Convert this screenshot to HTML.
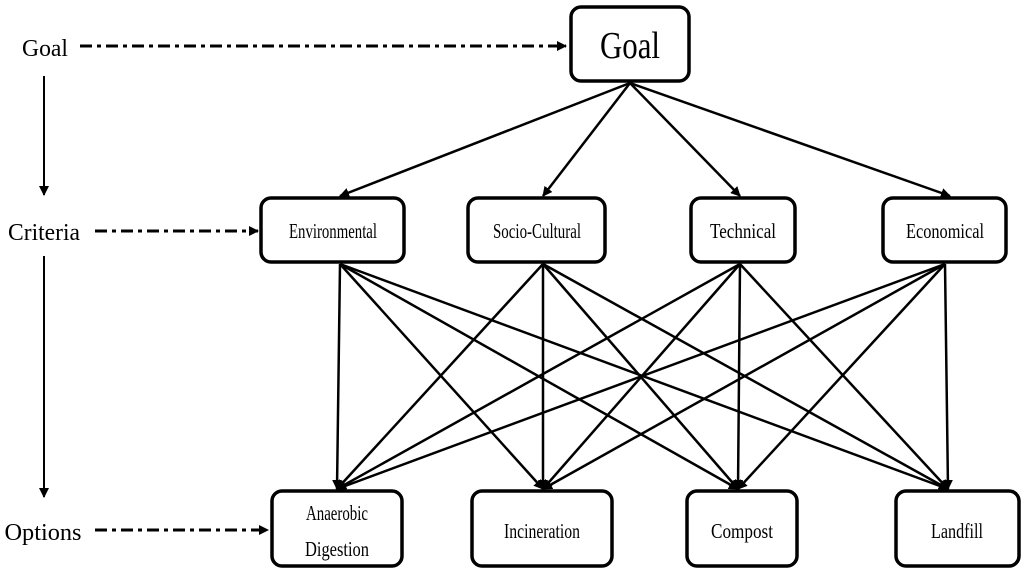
<!DOCTYPE html>
<html><head><meta charset="utf-8"><style>body{margin:0;background:#fff}svg{display:block}</style></head><body>
<svg width="1024" height="575" viewBox="0 0 1024 575" xmlns="http://www.w3.org/2000/svg" font-family="Liberation Serif, serif">
<defs>
<marker id="a" markerWidth="10" markerHeight="10" refX="9" refY="5" orient="auto" markerUnits="userSpaceOnUse"><path d="M0,0 L10,5 L0,10 z" fill="#000"/></marker>
</defs>
<g fill="#fff" stroke="#000" stroke-width="3.5">
<rect x="571" y="7" width="118" height="74" rx="10"/>
<rect x="261" y="198" width="143" height="64" rx="10"/>
<rect x="468" y="198" width="137" height="64" rx="10"/>
<rect x="691" y="198" width="104" height="64" rx="10"/>
<rect x="883" y="198" width="123" height="64" rx="10"/>
<rect x="272" y="491" width="130" height="75" rx="10"/>
<rect x="472" y="491" width="140" height="75" rx="10"/>
<rect x="687" y="491" width="110" height="75" rx="10"/>
<rect x="896" y="491" width="123" height="75" rx="10"/>
</g>
<g stroke="#000" stroke-width="2.5" marker-end="url(#a)">
<line x1="630" y1="83" x2="340" y2="196"/>
<line x1="630" y1="83" x2="543" y2="196"/>
<line x1="630" y1="83" x2="740" y2="196"/>
<line x1="630" y1="83" x2="950" y2="196"/>
</g>
<g stroke="#000" stroke-width="2.5" marker-end="url(#a)">
<line x1="340" y1="264" x2="337" y2="489"/><line x1="340" y1="264" x2="543" y2="489"/><line x1="340" y1="264" x2="738" y2="489"/><line x1="340" y1="264" x2="948" y2="489"/>
<line x1="543" y1="264" x2="337" y2="489"/><line x1="543" y1="264" x2="543" y2="489"/><line x1="543" y1="264" x2="738" y2="489"/><line x1="543" y1="264" x2="948" y2="489"/>
<line x1="740" y1="264" x2="337" y2="489"/><line x1="740" y1="264" x2="543" y2="489"/><line x1="740" y1="264" x2="738" y2="489"/><line x1="740" y1="264" x2="948" y2="489"/>
<line x1="945" y1="264" x2="337" y2="489"/><line x1="945" y1="264" x2="543" y2="489"/><line x1="945" y1="264" x2="738" y2="489"/><line x1="945" y1="264" x2="948" y2="489"/>
</g>
<g stroke="#000" stroke-width="3" stroke-dasharray="12,5,4,5" marker-end="url(#a)">
<line x1="80" y1="46" x2="566" y2="46"/>
<line x1="95" y1="231" x2="258" y2="231"/>
<line x1="95" y1="530" x2="268" y2="530"/>
</g>
<g stroke="#000" stroke-width="2" marker-end="url(#a)">
<line x1="44" y1="76" x2="44" y2="195"/>
<line x1="44" y1="256" x2="44" y2="497"/>
</g>
<g fill="#000" text-anchor="middle" lengthAdjust="spacingAndGlyphs">
<text x="630" y="58" font-size="38" textLength="60" lengthAdjust="spacingAndGlyphs">Goal</text>
<text x="45" y="56" font-size="24" textLength="46" lengthAdjust="spacingAndGlyphs">Goal</text>
<text x="44" y="240" font-size="24" textLength="72" lengthAdjust="spacingAndGlyphs">Criteria</text>
<text x="43" y="540" font-size="24" textLength="77" lengthAdjust="spacingAndGlyphs">Options</text>
<text x="333" y="238" font-size="21" textLength="88" lengthAdjust="spacingAndGlyphs">Environmental</text>
<text x="537" y="238" font-size="21" textLength="88" lengthAdjust="spacingAndGlyphs">Socio-Cultural</text>
<text x="743" y="238" font-size="21" textLength="66" lengthAdjust="spacingAndGlyphs">Technical</text>
<text x="945" y="238" font-size="21" textLength="78" lengthAdjust="spacingAndGlyphs">Economical</text>
<text x="337" y="520" font-size="21" textLength="62" lengthAdjust="spacingAndGlyphs">Anaerobic</text>
<text x="337" y="556" font-size="21" textLength="64" lengthAdjust="spacingAndGlyphs">Digestion</text>
<text x="542" y="538" font-size="21" textLength="76" lengthAdjust="spacingAndGlyphs">Incineration</text>
<text x="742" y="538" font-size="21" textLength="62" lengthAdjust="spacingAndGlyphs">Compost</text>
<text x="957" y="538" font-size="21" textLength="52" lengthAdjust="spacingAndGlyphs">Landfill</text>
</g>
</svg>
</body></html>
